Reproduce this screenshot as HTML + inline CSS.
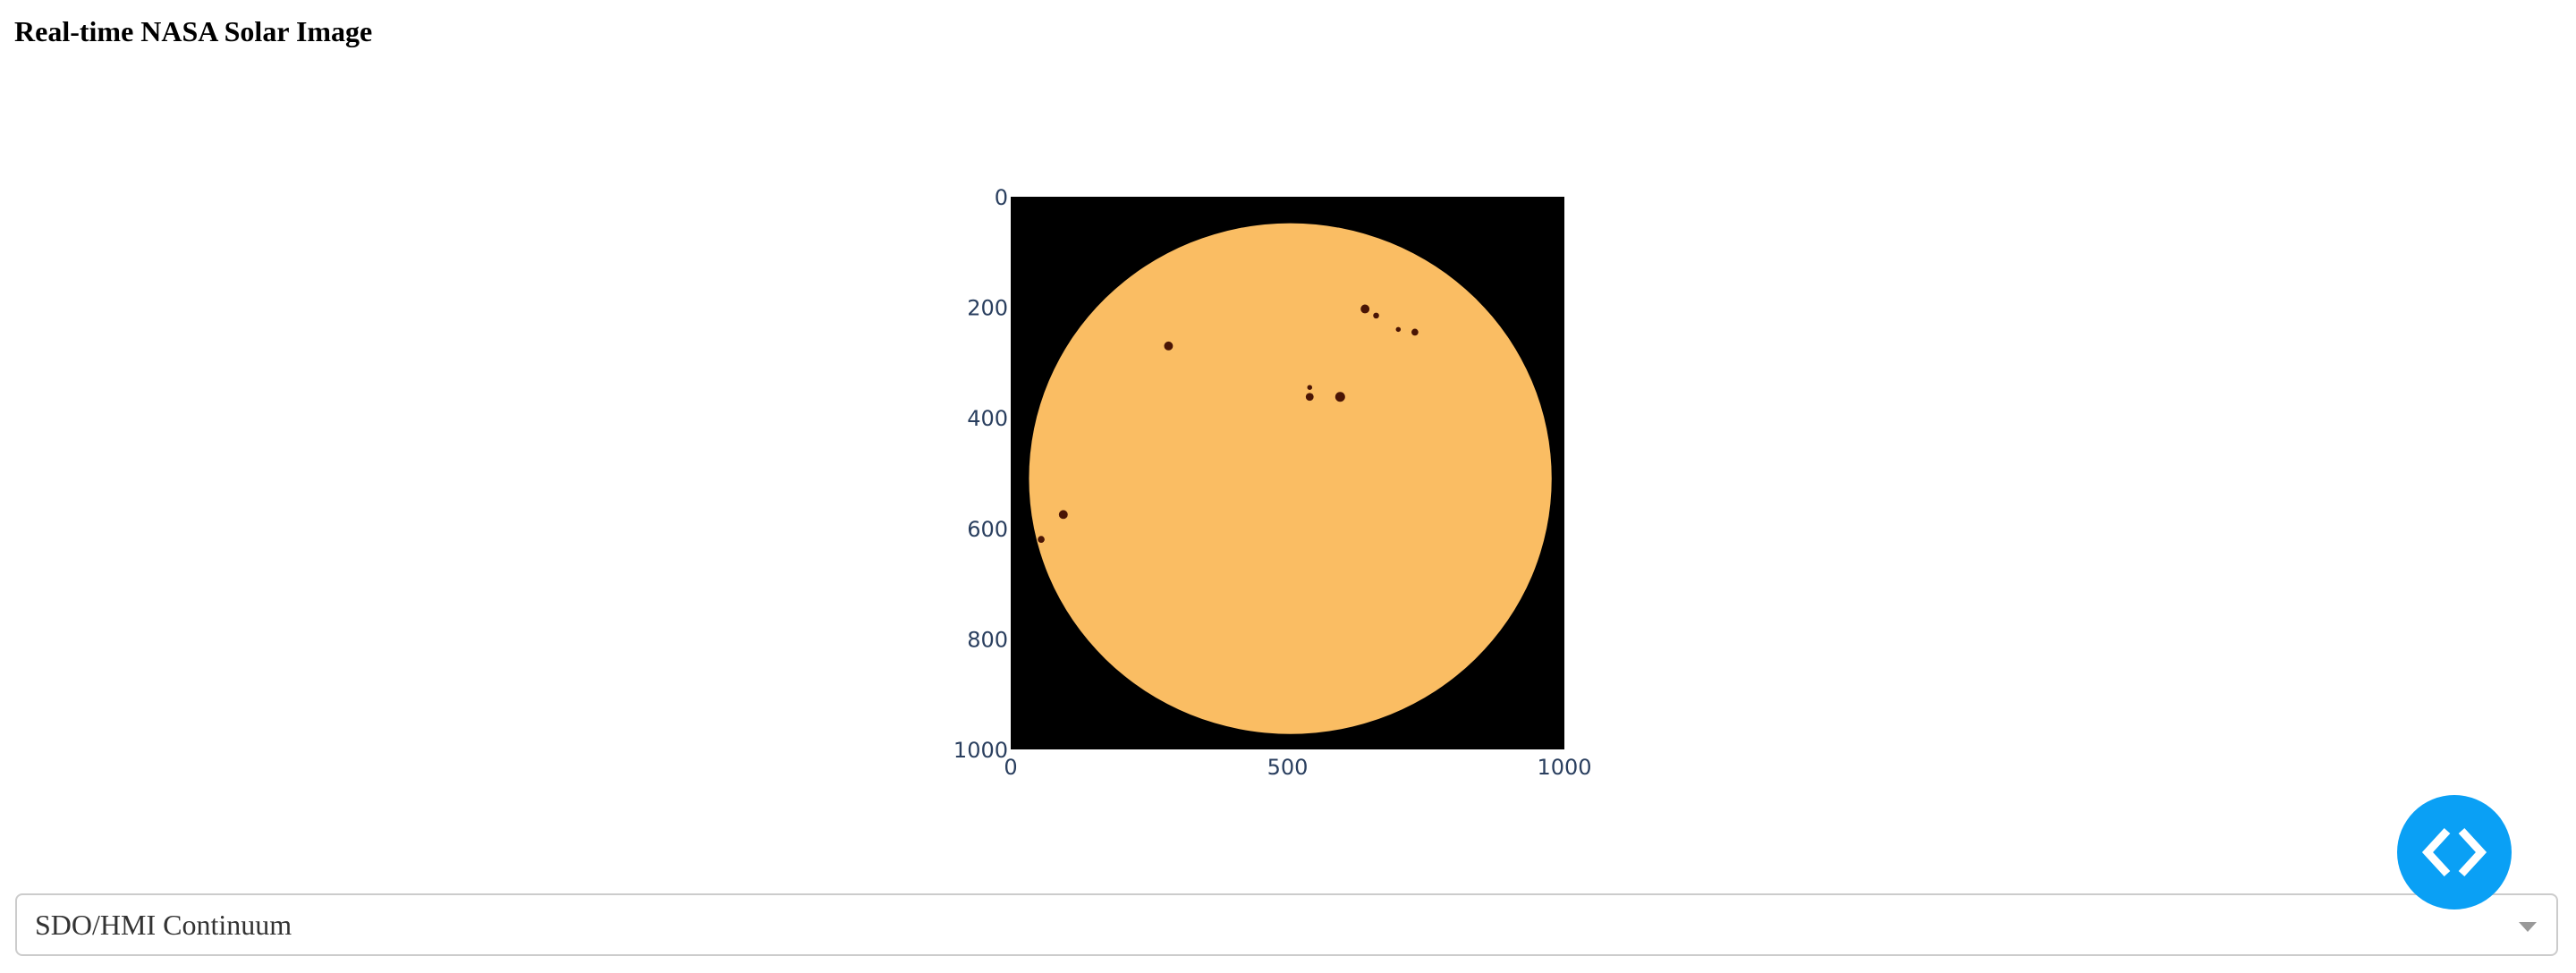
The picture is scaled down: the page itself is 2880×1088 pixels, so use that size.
<!DOCTYPE html>
<html><head><meta charset="utf-8"><style>
html,body{margin:0;padding:0;background:#fff;width:2880px;height:1088px;overflow:hidden;position:relative}
h3{position:absolute;left:16px;top:17px;margin:0;font:bold 32px "Liberation Serif",serif;color:#000}
#dd{position:absolute;left:17px;top:999px;width:2843px;height:70px;border:2px solid #ccc;border-radius:8px;box-sizing:border-box;background:#fff}
#dd span{position:absolute;left:20px;top:15px;font:32px "Liberation Serif",serif;color:#333}
#arrow{position:absolute;right:22px;top:30px;width:0;height:0;border-left:10px solid transparent;border-right:10px solid transparent;border-top:11px solid #999}
#btn{position:absolute;left:2680px;top:889px;width:128px;height:128px;border-radius:50%;background:#0aa0f5}
</style></head><body>
<h3>Real-time NASA Solar Image</h3>
<svg id="chart" width="2880" height="1088" style="position:absolute;left:0;top:0"></svg>
<div id="dd"><span>SDO/HMI Continuum</span><div id="arrow"></div></div>
<div id="btn"><svg width="128" height="128"><polyline points="56,40 34,64 56,88" fill="none" stroke="#fff" stroke-width="9"/><polyline points="72,40 94,64 72,88" fill="none" stroke="#fff" stroke-width="9"/></svg></div>
<script>
const xTicks=[0,500,1000];
const yTicks=[0,200,400,600,800,1000];
const sunCenter=[505,510];
const sunRadius=[472,462];
const spotX=[285,540,595,640,660,700,730,95,55,540];
const spotY=[270,362,362,203,215,240,245,575,620,345];
const spotR=[9,8,10,9,6,5,7,9,7,5];
const L=1130,R=1749,T=220,B=838;
const sx=v=>L+(v/1000)*(R-L), sy=v=>T+(v/1000)*(B-T);
const ns="http://www.w3.org/2000/svg", svg=document.getElementById('chart');
function mk(t,a){const e=document.createElementNS(ns,t);for(const k in a)e.setAttribute(k,a[k]);svg.appendChild(e);return e;}
let bg=mk('rect',{x:L,y:T,width:R-L,height:B-T,fill:'#000'});


let sun=mk('ellipse',{cx:sx(sunCenter[0]),cy:sy(sunCenter[1]),rx:sunRadius[0]*(R-L)/1000,ry:sunRadius[1]*(B-T)/1000,fill:'#fabd63'});


spotX.forEach((v,i)=>{
  let c=mk('circle',{cx:sx(v),cy:sy(spotY[i]),r:spotR[i]*0.55,fill:'#4a1505'});
  
  
});
xTicks.forEach(v=>{
  let t=mk('text',{x:sx(v),y:866,'text-anchor':'middle','font-size':24,'font-family':'DejaVu Sans, sans-serif',fill:'#2a3f5f'});
  t.textContent=v;
  
  
});
yTicks.forEach(v=>{
  let t=mk('text',{x:L-3,y:sy(v)+9,'text-anchor':'end','font-size':24,'font-family':'DejaVu Sans, sans-serif',fill:'#2a3f5f'});
  t.textContent=v;
  
  
});
</script>
</body></html>
